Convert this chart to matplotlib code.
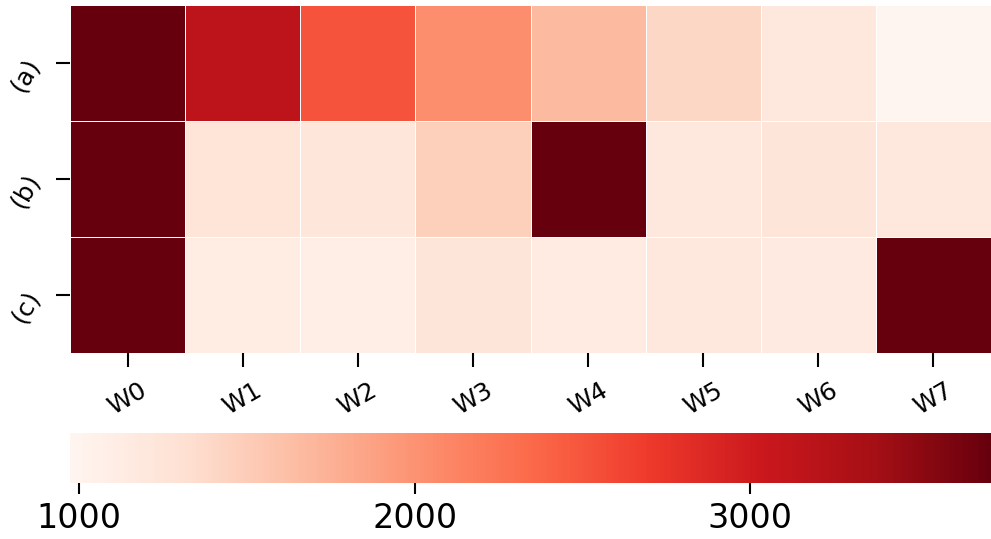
import numpy as np
import matplotlib
matplotlib.use("Agg")
import matplotlib.pyplot as plt

rows = ["(a)", "(b)", "(c)"]
cols = ["W0", "W1", "W2", "W3", "W4", "W5", "W6", "W7"]

row_a = [3717, 3168, 2510, 2043, 1659, 1412, 1193, 973]
row_b = [3717, 1247, 1220, 1467, 3717, 1206, 1234, 1193]
row_c = [3717, 1124, 1096, 1234, 1138, 1179, 1151, 3717]

cbar_ticks = [1000, 2000, 3000]

data = np.array([row_a, row_b, row_c], dtype=float)

fig = plt.figure(figsize=(9.91, 5.39), dpi=100)
ax = fig.add_axes([70 / 991, (539 - 353) / 539, 921 / 991, 348 / 539])
cax = fig.add_axes([70 / 991, (539 - 483) / 539, 921 / 991, 50 / 539])

mesh = ax.pcolormesh(data, cmap="Reds", vmin=data.min(), vmax=data.max(),
                     edgecolors="white", linewidth=0.4)
ax.set_xlim(0, len(cols))
ax.set_ylim(len(rows), 0)
for s in ax.spines.values():
    s.set_visible(False)

ax.set_xticks(np.arange(len(cols)) + 0.5)
ax.set_xticklabels(cols, rotation=30, ha="center", fontsize=18)
ax.set_yticks(np.arange(len(rows)) + 0.5)
ax.set_yticklabels(rows, rotation=60, fontsize=18)
ax.tick_params(axis="both", length=10, width=1.5, pad=8)

cb = fig.colorbar(mesh, cax=cax, orientation="horizontal", ticks=cbar_ticks)
cb.outline.set_visible(False)
cb.ax.tick_params(labelsize=24, length=8, width=1.5, pad=6)

fig.savefig("out.png", dpi=100)
